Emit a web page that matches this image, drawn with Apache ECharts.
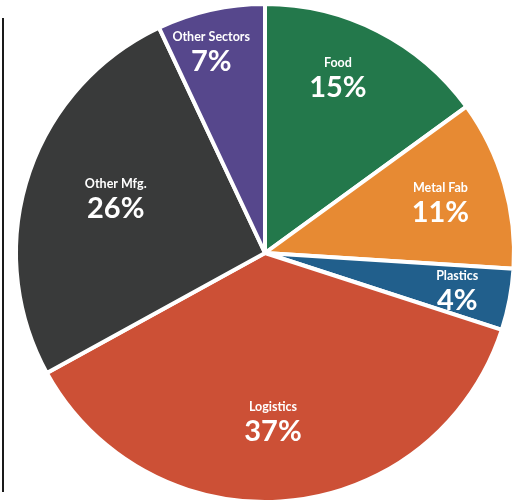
<!DOCTYPE html>
<html>
<head>
<meta charset="utf-8">
<script src="https://cdn.jsdelivr.net/npm/echarts@6/dist/echarts.min.js"></script>
<style>
  html, body { margin: 0; padding: 0; background: #ffffff; }
  #chart { width: 519px; height: 503px; }
</style>
</head>
<body>
<div id="chart"></div>
<script>
// Sector shares (percent), clockwise from 12 o'clock
const sectors = ['Food', 'Metal Fab', 'Plastics', 'Logistics', 'Other Mfg.', 'Other Sectors'];
const shares = [15, 11, 4, 37, 26, 7];
const colors = ['#23784b', '#e78a33', '#215f8c', '#cc5036', '#393a3a', '#56478c'];

// Per-slice nudge of the label block away from the default inside spot
const labelNudge = [[15, -60], [53, -13], [67, 16], [-4, 44], [-28, -13], [-26, -75]];

const chart = echarts.init(document.getElementById('chart'), null, { renderer: 'canvas' });

chart.setOption({
  animation: false,
  backgroundColor: '#ffffff',
  graphic: [{
    type: 'line',
    shape: { x1: 3, y1: 18, x2: 3, y2: 492 },
    style: { stroke: '#1a1a1a', lineWidth: 2 }
  }],
  series: [{
    type: 'pie',
    center: [265, 253],
    radius: [0, 249],
    startAngle: 90,
    clockwise: true,
    silent: true,
    itemStyle: { borderColor: '#ffffff', borderWidth: 4 },
    label: {
      show: true,
      position: 'inside',
      color: '#ffffff',
      fontFamily: 'Lato',
      align: 'center',
      formatter: '{n|{b}}\n{p|{c}%}',
      rich: {
        n: { fontSize: 12.5, fontWeight: 'bold', color: '#ffffff', lineHeight: 16, fontFamily: 'Lato' },
        p: { fontSize: 29, fontWeight: 'bold', color: '#ffffff', lineHeight: 33, fontFamily: 'Lato' }
      }
    },
    labelLine: { show: false },
    labelLayout: function (params) {
      const d = labelNudge[params.dataIndex];
      return { dx: d[0], dy: d[1] };
    },
    data: sectors.map((name, i) => ({
      name: name,
      value: shares[i],
      itemStyle: { color: colors[i] }
    }))
  }]
});
</script>
</body>
</html>
